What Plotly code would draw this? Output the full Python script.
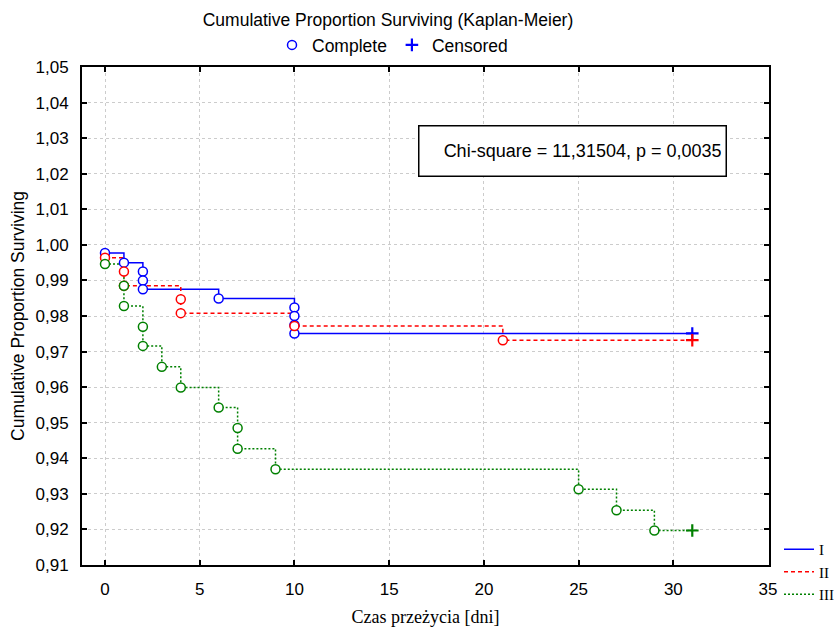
import plotly.graph_objects as go

# ---- data ----
groups = ["I", "II", "III"]
colors = ["#0000ff", "#ff0000", "#008000"]
dashes = ["solid", "4px,3px", "2px,2px"]

times_I = [0, 1, 2, 2, 2, 6, 10, 10, 10, 10]
surv_I = [0.9977, 0.9950, 0.9925, 0.9900, 0.9875, 0.9849, 0.9824, 0.9800, 0.9775, 0.9751]
times_II = [0, 1, 1, 4, 4, 10, 21]
surv_II = [0.9964, 0.9925, 0.9885, 0.9847, 0.9808, 0.9772, 0.9732]
times_III = [0, 1, 1, 2, 2, 3, 4, 6, 7, 7, 9, 25, 27, 29]
surv_III = [0.9946, 0.9885, 0.9828, 0.9770, 0.9716, 0.9657, 0.9599, 0.9543,
            0.9485, 0.9427, 0.9369, 0.9313, 0.9254, 0.9197]
censor_time = [31, 31, 31]

chi_text = "Chi-square = 11,31504, p = 0,0035"
title_text = "Cumulative Proportion Surviving (Kaplan-Meier)"
x_title = "Czas przeżycia [dni]"
y_title = "Cumulative Proportion Surviving"

all_times = [times_I, times_II, times_III]
all_surv = [surv_I, surv_II, surv_III]

SANS = "Liberation Sans, Arial, sans-serif"
SERIF = "Liberation Serif, Times New Roman, serif"

fig = go.Figure()

for i, g in enumerate(groups):
    t = all_times[i]
    s = all_surv[i]
    fig.add_trace(go.Scatter(
        x=t + [censor_time[i]], y=s + [s[-1]],
        mode="lines", line=dict(color=colors[i], width=1.5, dash=dashes[i], shape="hv"),
        name=g, legend="legend2", showlegend=True, hoverinfo="skip"))

for i, g in enumerate(groups):
    t = all_times[i]
    s = all_surv[i]
    fig.add_trace(go.Scatter(
        x=t, y=s, mode="markers",
        marker=dict(symbol="circle", size=9, color="white",
                    line=dict(color=colors[i], width=1.5)),
        name="Complete", legend="legend", showlegend=(i == 0), hoverinfo="skip"))
    fig.add_trace(go.Scatter(
        x=[censor_time[i]], y=[s[-1]], mode="markers",
        marker=dict(symbol="cross-thin", size=9, color=colors[i],
                    line=dict(color=colors[i], width=2.2)),
        name="Censored", legend="legend", showlegend=(i == 0), hoverinfo="skip"))

axis_common = dict(
    showline=True, linecolor="black", linewidth=2, mirror="ticks",
    ticks="inside", ticklen=5, tickwidth=1.5, tickcolor="black",
    showgrid=True, gridcolor="#cccccc", griddash="dot", gridwidth=1,
    zeroline=False, tickfont=dict(family=SANS, size=17, color="black"),
    ticklabelstandoff=8, automargin=False,
)

fig.update_xaxes(range=[-1.214, 35.05], tick0=0, dtick=5, tickformat="d",
                 title=dict(text=x_title, font=dict(family=SERIF, size=18, color="black"),
                            standoff=12),
                 **axis_common)
fig.update_yaxes(range=[0.91, 1.05], tick0=0.91, dtick=0.01, tickformat=".2f",
                 title=dict(text=y_title, font=dict(family=SANS, size=17.5, color="black"),
                            standoff=6),
                 **axis_common)

fig.add_annotation(
    x=24.66, y=1.0265, xref="x", yref="y", text=chi_text, showarrow=False,
    font=dict(family=SANS, size=18, color="black"),
    width=298, height=41, align="right", borderpad=4,
    bordercolor="black", borderwidth=1.5, bgcolor="white")

fig.update_layout(
    width=840, height=627,
    margin=dict(l=82, r=71, t=67, b=62, autoexpand=False),
    paper_bgcolor="white", plot_bgcolor="white",
    separators=", ",
    font=dict(family=SANS, size=17, color="black"),
    title=dict(text=title_text, x=388 / 840, xanchor="center", xref="container",
               y=1 - 20 / 627, yanchor="middle", yref="container",
               font=dict(family=SANS, size=17.5, color="black")),
    legend=dict(orientation="h", xref="container", yref="container",
                x=272 / 840, xanchor="left", y=1 - 45 / 627, yanchor="middle",
                font=dict(family=SANS, size=17.5, color="black"),
                bgcolor="rgba(0,0,0,0)", itemwidth=30, tracegroupgap=0),
    legend2=dict(orientation="v", xref="container", yref="container",
                 x=779 / 840, xanchor="left", y=1 - 533 / 627, yanchor="top",
                 font=dict(family=SERIF, size=15, color="black"),
                 bgcolor="rgba(0,0,0,0)", itemwidth=30, tracegroupgap=0),
    hovermode=False,
)

fig.write_html("out.html", config={"displayModeBar": False},
               post_script="document.body.style.margin='0';document.body.style.overflow='hidden';")
